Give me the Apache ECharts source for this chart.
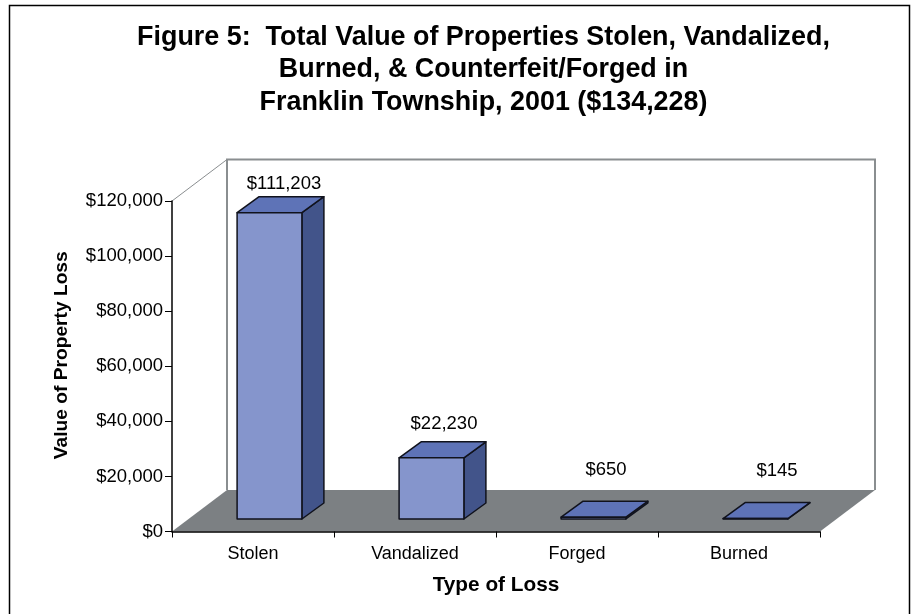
<!DOCTYPE html>
<html>
<head>
<meta charset="utf-8">
<style>html,body{margin:0;padding:0;background:#fff}#c{width:911px;height:614px}</style>
<script src="https://cdn.jsdelivr.net/npm/echarts@6/dist/echarts.min.js"></script>
</head>
<body>
<div id="c"></div>
<script>
const categories = ['Stolen', 'Vandalized', 'Forged', 'Burned'];
const lossValues = [111203, 22230, 650, 145];
const valueLabels = ['$111,203', '$22,230', '$650', '$145'];
const yTicks = { min: 0, max: 120000, interval: 20000 };
const chartTitle = 'Figure 5:  Total Value of Properties Stolen, Vandalized,\nBurned, & Counterfeit/Forged in\nFranklin Township, 2001 ($134,228)';

const FONT = '"Liberation Sans", Arial, sans-serif';
const BAR_RATIO = 0.4;
const DEPTH = [22, -16];
const WALL_DEPTH = [55, -41.5];
const BAR_SHIFT = [16.5, -12.5];
const LABEL_SHIFT = [[31, -12.5], [29, -18], [29, -31], [38, -32]];

const chart = echarts.init(document.getElementById('c'), null, { renderer: 'canvas' });

function renderWalls(params, api) {
  const g = params.coordSys;
  const l = g.x, r = g.x + g.width, t = g.y, b = g.y + g.height;
  const dx = WALL_DEPTH[0], dy = WALL_DEPTH[1];
  return {
    type: 'group',
    silent: true,
    children: [
      { type: 'polygon', shape: { points: [[l, b], [l + dx, b + dy], [r + dx, b + dy], [r, b]] },
        style: { fill: '#7c8083', stroke: null } },
      { type: 'polyline', shape: { points: [[l + dx, b + dy], [l + dx, t + dy], [r + dx, t + dy], [r + dx, b + dy]] },
        style: { fill: null, stroke: '#8a8e90', lineWidth: 2 } },
      { type: 'line', shape: { x1: l, y1: t, x2: l + dx, y2: t + dy },
        style: { stroke: '#8a8e90', lineWidth: 1 } }
    ]
  };
}

function renderBar(params, api) {
  const i = api.value(0);
  const top = api.coord([i, api.value(1)]);
  const bottom = api.coord([i, 0]);
  const w = api.size([1, 0])[0] * BAR_RATIO;
  const x0 = top[0] - w / 2 + BAR_SHIFT[0], x1 = x0 + w;
  const y0 = top[1] + BAR_SHIFT[1], y1 = bottom[1] + BAR_SHIFT[1];
  const dx = DEPTH[0], dy = DEPTH[1];
  const edge = { stroke: '#10121c', lineWidth: 1.5, lineJoin: 'round' };
  return {
    type: 'group',
    children: [
      { type: 'polygon', shape: { points: [[x1, y0], [x1 + dx, y0 + dy], [x1 + dx, y1 + dy], [x1, y1]] },
        style: Object.assign({ fill: '#42548a' }, edge) },
      { type: 'polygon', shape: { points: [[x0, y0], [x0 + dx, y0 + dy], [x1 + dx, y0 + dy], [x1, y0]] },
        style: Object.assign({ fill: '#5e73b7' }, edge) },
      { type: 'rect', shape: { x: x0, y: y0, width: w, height: y1 - y0 },
        style: Object.assign({ fill: '#8595cc' }, edge) },
      { type: 'text',
        style: { text: valueLabels[i], x: top[0] + LABEL_SHIFT[i][0], y: y0 + dy + LABEL_SHIFT[i][1],
                 textAlign: 'center', textVerticalAlign: 'middle', fill: '#000', font: '18.5px ' + FONT } }
    ]
  };
}

chart.setOption({
  animation: false,
  backgroundColor: '#fff',
  title: {
    text: chartTitle, left: 483.5, top: 21, textAlign: 'center', padding: 0,
    textStyle: { fontFamily: FONT, fontWeight: 'bold', fontSize: 26.9, lineHeight: 32.7, color: '#000' }
  },
  graphic: [
    { type: 'polyline', silent: true, z: -10,
      shape: { points: [[9.5, 614], [9.5, 5.5], [909.5, 5.5], [909.5, 614]] },
      style: { fill: null, stroke: '#000', lineWidth: 1.5 } }
  ],
  grid: { left: 172, top: 201, width: 648, height: 330.5 },
  xAxis: {
    type: 'category',
    data: categories,
    boundaryGap: true,
    name: 'Type of Loss',
    nameLocation: 'middle',
    nameGap: 43,
    nameTextStyle: { fontFamily: FONT, fontWeight: 'bold', fontSize: 20.8, color: '#000' },
    axisLine: { lineStyle: { color: '#000', width: 1.5 } },
    axisTick: { show: true, alignWithLabel: false, length: 6, lineStyle: { color: '#000', width: 1 } },
    axisLabel: { fontFamily: FONT, fontSize: 18, color: '#000', margin: 14 },
    splitLine: { show: false }
  },
  yAxis: {
    type: 'value',
    min: yTicks.min,
    max: yTicks.max,
    interval: yTicks.interval,
    name: 'Value of Property Loss',
    nameLocation: 'middle',
    nameGap: 101,
    nameRotate: 90,
    nameTextStyle: { fontFamily: FONT, fontWeight: 'bold', fontSize: 19.2, color: '#000', padding: [0, 0, 0, 22] },
    axisLine: { show: true, lineStyle: { color: '#000', width: 1.5 } },
    axisTick: { show: true, length: 7, lineStyle: { color: '#000', width: 1 } },
    axisLabel: { fontFamily: FONT, fontSize: 18.5, color: '#000', margin: 9, padding: [6, 0, 0, 0],
      formatter: v => '$' + v.toLocaleString('en-US') },
    splitLine: { show: false }
  },
  series: [
    { type: 'custom', name: 'walls', z: -1, silent: true, renderItem: renderWalls,
      data: [[0, 0]], encode: { x: 0, y: 1 }, clip: false },
    { type: 'custom', name: 'Value of Property Loss', z: 3, renderItem: renderBar,
      data: lossValues.map((v, i) => [i, v]), encode: { x: 0, y: 1 }, clip: false }
  ]
});
</script>
</body>
</html>
